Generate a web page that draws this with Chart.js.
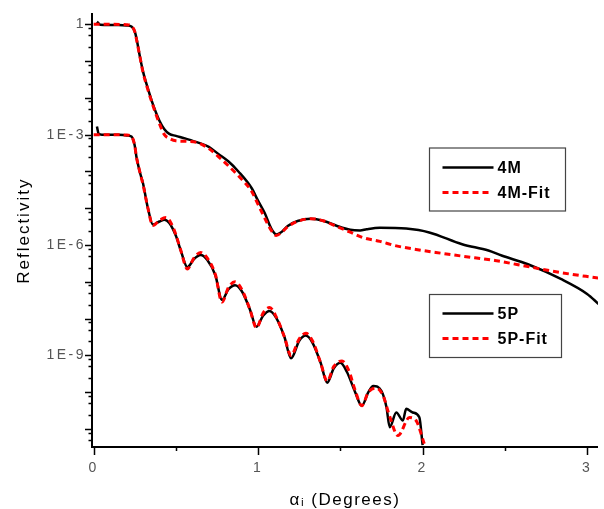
<!DOCTYPE html>
<html><head><meta charset="utf-8">
<script src="https://cdn.jsdelivr.net/npm/chart.js@4/dist/chart.umd.min.js"></script>
<style>html,body{margin:0;padding:0;background:#fff;overflow:hidden}canvas{display:block}</style>
</head><body>
<canvas id="c" width="604" height="509"></canvas>
<script>
// ---- data (x in degrees, y = reflectivity) ----
const x4M = [0.02,0.04,0.10,0.15,0.20,0.23,0.25,0.26,0.28,0.30,0.33,0.36,0.40,0.43,0.46,0.50,0.56,0.64,0.70,0.76,0.82,0.88,0.96,1.00,1.04,1.08,1.11,1.14,1.18,1.24,1.32,1.40,1.48,1.56,1.62,1.66,1.74,1.90,2.04,2.24,2.40,2.48,2.64,2.84,3.00,3.07];
const y4M = [1.175,0.977,0.955,0.955,0.933,0.871,0.631,0.427,0.141,0.0525,0.0178,6.76e-3,2.40e-3,1.41e-3,1.05e-3,9.3e-4,7.8e-4,6.0e-4,4.68e-4,2.95e-4,1.86e-4,1.0e-4,3.55e-5,1.58e-5,7.4e-6,2.8e-6,1.95e-6,2.24e-6,3.3e-6,4.5e-6,5.2e-6,4.5e-6,3.3e-6,2.6e-6,2.5e-6,2.7e-6,2.95e-6,2.8e-6,2.2e-6,1.05e-6,7.1e-7,5.2e-7,3.0e-7,1.2e-7,4.7e-8,2.5e-8];

const x4MFit = [0.00,0.10,0.20,0.23,0.25,0.26,0.28,0.30,0.33,0.36,0.40,0.43,0.46,0.50,0.56,0.64,0.70,0.76,0.82,0.88,0.96,1.00,1.04,1.08,1.11,1.14,1.18,1.24,1.32,1.40,1.48,1.56,1.64,1.74,1.84,1.96,2.08,2.24,2.44,2.64,2.84,3.07];
const y4MFit = [1,1,0.977,0.891,0.631,0.398,0.141,0.0501,0.0166,6.3e-3,2.0e-3,1.0e-3,7.9e-4,6.8e-4,6.6e-4,5.9e-4,4.2e-4,2.5e-4,1.41e-4,7.6e-5,2.9e-5,1.26e-5,5.4e-6,2.5e-6,1.82e-6,2.14e-6,3.16e-6,4.4e-6,5.2e-6,4.5e-6,3.16e-6,2.24e-6,1.58e-6,1.26e-6,9.5e-7,7.6e-7,6.3e-7,5.0e-7,3.8e-7,2.6e-7,1.78e-7,1.26e-7];

const x5P = [0.02,0.03,0.05,0.10,0.15,0.20,0.23,0.25,0.26,0.28,0.30,0.33,0.36,0.40,0.43,0.46,0.50,0.53,0.57,0.61,0.65,0.69,0.74,0.78,0.82,0.86,0.90,0.95,0.99,1.03,1.07,1.11,1.16,1.20,1.25,1.29,1.33,1.38,1.42,1.46,1.50,1.54,1.59,1.63,1.67,1.70,1.75,1.78,1.80,1.84,1.88,1.90,1.94,1.98,2.00];
const y5P = [1.66e-3,1.07e-3,1e-3,1e-3,1e-3,9.55e-4,8.91e-4,5.01e-4,2.51e-4,1e-4,4.79e-5,1e-5,3.63e-6,4.37e-6,4.90e-6,3.98e-6,1.78e-6,7.08e-7,2.51e-7,4.17e-7,5.37e-7,3.98e-7,1.51e-7,3.24e-8,6.31e-8,8.13e-8,5.62e-8,1.78e-8,6.03e-9,1.20e-8,1.62e-8,1.047e-8,3.16e-9,8.32e-10,2.51e-9,3.47e-9,2.24e-9,6.31e-10,1.82e-10,4.47e-10,6.31e-10,3.55e-10,1e-10,4.27e-11,1e-10,1.48e-10,1.07e-10,3.98e-11,1.12e-11,2.82e-11,1.70e-11,3.55e-11,2.82e-11,2.09e-11,3.63e-12];

const x5PFit = [0.00,0.10,0.20,0.23,0.25,0.26,0.28,0.30,0.33,0.36,0.40,0.44,0.47,0.50,0.53,0.57,0.61,0.65,0.69,0.74,0.78,0.82,0.86,0.90,0.95,0.99,1.03,1.07,1.11,1.16,1.20,1.25,1.29,1.33,1.38,1.42,1.46,1.51,1.55,1.59,1.63,1.67,1.72,1.76,1.80,1.85,1.92,1.96,2.01];
const y5PFit = [1e-3,1e-3,9.77e-4,8.91e-4,5.01e-4,2.51e-4,1e-4,4.47e-5,1e-5,3.39e-6,4.68e-6,5.62e-6,3.98e-6,1.91e-6,7.08e-7,2.24e-7,4.47e-7,6.31e-7,4.47e-7,1.58e-7,2.82e-8,7.08e-8,1e-7,6.31e-8,1.78e-8,5.62e-9,1.41e-8,2.0e-8,1.12e-8,3.16e-9,1e-9,2.82e-9,3.98e-9,2.51e-9,6.31e-10,2.0e-10,5.01e-10,7.08e-10,3.98e-10,1.12e-10,4.27e-11,1e-10,1.29e-10,7.94e-11,2.19e-11,6.61e-12,2.04e-11,1.70e-11,3.98e-12];

const seriesLabels = ['4M', '4M-Fit', '5P', '5P-Fit'];
const xTickValues = [0, 1, 2, 3];
const xTickLabels = ['0', '1', '2', '3'];
const yTickValues = [1, 1e-3, 1e-6, 1e-9];
const yTickLabels = ['1', '1E-3', '1E-6', '1E-9'];

// ---- helpers ----
const pts = (xs, ys) => xs.map((x, i) => ({x: x, y: ys[i]}));

const solid = {borderColor: '#000000', borderWidth: 2.5, borderDash: [], order: 1};
const dashed = {borderColor: '#ff0000', borderWidth: 3, borderDash: [6, 4], order: 0};

const datasets = [
  Object.assign({label: seriesLabels[0], data: pts(x4M, y4M)}, solid),
  Object.assign({label: seriesLabels[1], data: pts(x4MFit, y4MFit)}, dashed),
  Object.assign({label: seriesLabels[2], data: pts(x5P, y5P)}, solid),
  Object.assign({label: seriesLabels[3], data: pts(x5PFit, y5PFit)}, dashed)
];
datasets.forEach(d => { d.showLine = true; d.pointRadius = 0; d.fill = false; d.cubicInterpolationMode = 'monotone'; });

// legend boxes (layout only)
const legendGroups = [
  {sets: [0, 1], box: [429.5, 148, 136, 63], rows: [167.5, 192.5]},
  {sets: [2, 3], box: [429.5, 294.5, 132, 63], rows: [313.5, 338.5]}
];

const spacingPlugin = {
  id: 'spacing',
  beforeDraw(chart) {
    chart.ctx.letterSpacing = '2.5px';
    Object.values(chart.scales).forEach(s => {
      if (!s._wrappedTitle) {
        const orig = s.drawTitle;
        s.drawTitle = function () {
          const c = this.ctx; const prev = c.letterSpacing;
          c.letterSpacing = this.id === 'y' ? '2px' : '1.5px';
          orig.apply(this, arguments);
          c.letterSpacing = prev;
        };
        s._wrappedTitle = true;
      }
    });
  }
};

const tickMarkPlugin = {
  id: 'tickMarks',
  afterDraw(chart) {
    const ctx = chart.ctx, xs = chart.scales.x, ys = chart.scales.y, ca = chart.chartArea;
    ctx.save();
    ctx.letterSpacing = '0px';
    ctx.strokeStyle = '#000';
    ctx.lineWidth = 1.5;
    ctx.setLineDash([]);
    ctx.beginPath();
    for (let k = 0; k <= 6; k++) {
      const v = k * 0.5;
      const px = Math.round(xs.getPixelForValue(v)) + 0.5;
      const len = (k % 2 === 0) ? 8 : 4;
      ctx.moveTo(px, ca.bottom); ctx.lineTo(px, ca.bottom + len);
    }
    const mults = [[1, 7], [0.8, 3.5], [0.5, 3.5], [0.24, 3.5]];
    for (let e = -12; e <= 1; e++) {
      mults.forEach(([m, len]) => {
        const v = m * Math.pow(10, e);
        if (v < ys.min || v > ys.max) return;
        const py = Math.round(ys.getPixelForValue(v)) + 0.5;
        ctx.moveTo(ca.left - len, py); ctx.lineTo(ca.left, py);
      });
    }
    ctx.stroke();

    // legends
    legendGroups.forEach(g => {
      const [bx, by, bw, bh] = g.box;
      ctx.fillStyle = '#fff';
      ctx.fillRect(bx, by, bw, bh);
      ctx.strokeStyle = '#444';
      ctx.lineWidth = 1.2;
      ctx.setLineDash([]);
      ctx.strokeRect(bx, by, bw, bh);
      g.sets.forEach((si, r) => {
        const ds = chart.data.datasets[si];
        const y = g.rows[r];
        ctx.beginPath();
        ctx.strokeStyle = ds.borderColor;
        ctx.lineWidth = ds.borderWidth;
        ctx.setLineDash(ds.borderDash);
        ctx.moveTo(bx + 13, y);
        ctx.lineTo(bx + (ds.borderDash.length ? 59 : 64), y);
        ctx.stroke();
        ctx.setLineDash([]);
        ctx.fillStyle = '#000';
        ctx.font = 'bold 16px "Liberation Sans", Arial, sans-serif';
        ctx.letterSpacing = '1px';
        ctx.textBaseline = 'middle';
        ctx.textAlign = 'left';
        ctx.fillText(ds.label, bx + 68, y + 1);
      });
    });
    ctx.restore();
    ctx.letterSpacing = '0px';
  }
};

new Chart(document.getElementById('c'), {
  type: 'scatter',
  data: {datasets: datasets},
  plugins: [spacingPlugin, tickMarkPlugin],
  options: {
    responsive: false,
    animation: false,
    events: [],
    layout: {padding: {top: 9, right: 0, left: 0, bottom: 0}},
    plugins: {legend: {display: false}, tooltip: {enabled: false}},
    scales: {
      x: {
        type: 'linear',
        min: -0.01,
        max: 3.066,
        grid: {display: false, drawTicks: false},
        border: {display: true, color: '#000', width: 2},
        afterBuildTicks: s => { s.ticks = xTickValues.map(v => ({value: v})); },
        afterFit: s => { s.height = 62; },
        ticks: {
          padding: 13,
          color: '#555',
          maxRotation: 0,
          font: {family: '"Liberation Sans", Arial, sans-serif', size: 14},
          callback: (v) => { const i = xTickValues.indexOf(v); return i >= 0 ? xTickLabels[i] : ''; }
        },
        title: {
          display: true,
          text: 'αᵢ (Degrees)',
          color: '#000',
          font: {family: '"Liberation Sans", Arial, sans-serif', size: 17, lineHeight: 1.0},
          padding: {top: 0, bottom: 0}
        }
      },
      y: {
        type: 'logarithmic',
        min: 3.24e-12,
        max: 1.86,
        grid: {display: false, drawTicks: false},
        border: {display: true, color: '#000', width: 2},
        afterBuildTicks: s => { s.ticks = yTickValues.map(v => ({value: v})); },
        afterFit: s => { s.width = 92; },
        ticks: {
          padding: 6,
          color: '#555',
          font: {family: '"Liberation Sans", Arial, sans-serif', size: 14},
          callback: (v) => { const i = yTickValues.indexOf(v); return i >= 0 ? yTickLabels[i] : ''; }
        },
        title: {
          display: true,
          text: 'Reflectivity',
          color: '#000',
          font: {family: '"Liberation Sans", Arial, sans-serif', size: 17},
          padding: {top: 14, bottom: 0}
        }
      }
    }
  }
});
</script>
</body></html>
